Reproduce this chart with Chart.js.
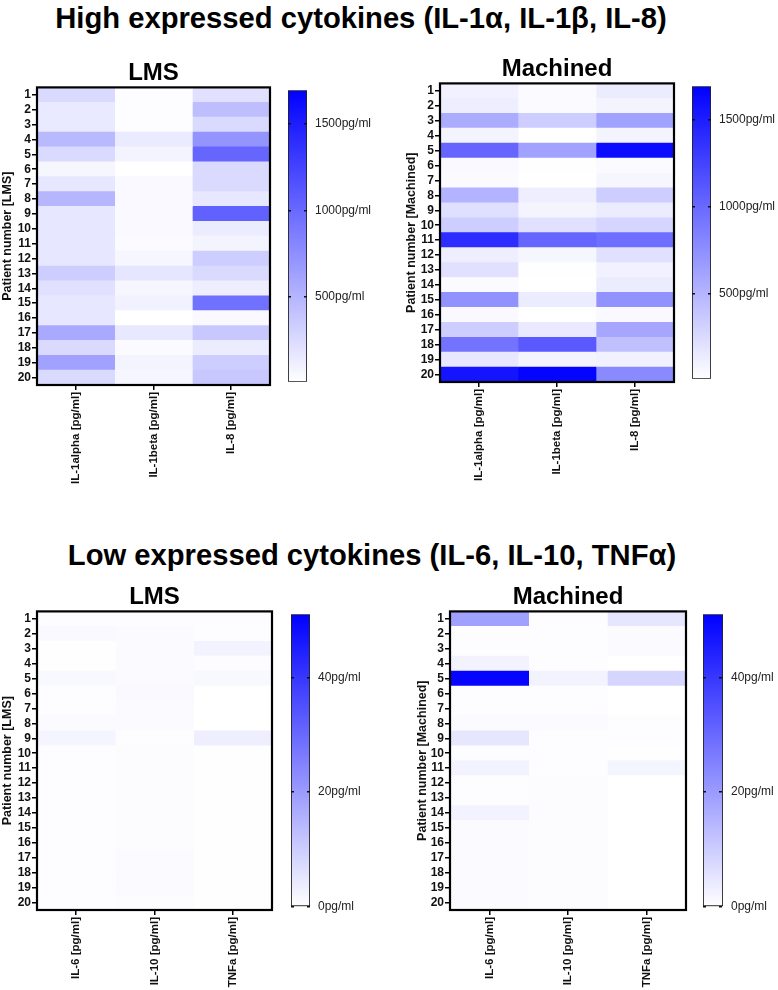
<!DOCTYPE html>
<html>
<head>
<meta charset="utf-8">
<script src="https://cdn.jsdelivr.net/npm/chart.js@4.4.1/dist/chart.umd.min.js"></script>
<style>
  body { margin: 0; background: #fff; }
  #wrap { position: relative; width: 778px; height: 990px; overflow: hidden; }
  #wrap canvas { position: absolute; }
  .main { position: absolute; left: 0; font: bold 29.2px "Liberation Sans", Arial, sans-serif; color: #000; text-align: center; line-height: 34px; white-space: nowrap; }
</style>
</head>
<body>
<div id="wrap">
  <div class="main" style="top:1px;width:722px;">High expressed cytokines (IL-1α, IL-1β, IL-8)</div>
  <div class="main" style="top:538px;width:744px;">Low expressed cytokines (IL-6, IL-10, TNFα)</div>
  <canvas id="hmTL" width="272" height="429" style="left:0;top:56px"></canvas>
  <canvas id="cbTL" width="89" height="322" style="left:288px;top:75px"></canvas>
  <canvas id="hmTR" width="272" height="430" style="left:404px;top:52px"></canvas>
  <canvas id="cbTR" width="89" height="323" style="left:692px;top:71px"></canvas>
  <canvas id="hmBL" width="274" height="430" style="left:0;top:580px"></canvas>
  <canvas id="cbBL" width="89" height="323" style="left:291px;top:599px"></canvas>
  <canvas id="hmBR" width="273" height="430" style="left:415px;top:580px"></canvas>
  <canvas id="cbBR" width="90" height="323" style="left:703px;top:599px"></canvas>
</div>
<script>
const patients = ['1','2','3','4','5','6','7','8','9','10','11','12','13','14','15','16','17','18','19','20'];
const highCytokines = ['IL-1alpha [pg/ml]', 'IL-1beta [pg/ml]', 'IL-8 [pg/ml]'];
const lowCytokines = ['IL-6 [pg/ml]', 'IL-10 [pg/ml]', 'TNFa [pg/ml]'];

// high expressed, pg/ml
const lmsIL1a = [255, 155, 155, 475, 255, 70, 170, 495, 170, 170, 170, 170, 340, 205, 170, 170, 580, 255, 630, 255];
const lmsIL1b = [20, 20, 20, 145, 85, 5, 50, 50, 50, 50, 35, 70, 175, 70, 100, 5, 160, 35, 85, 70];
const lmsIL8 = [205, 440, 255, 715, 1020, 255, 255, 170, 1055, 135, 85, 340, 255, 120, 950, 50, 375, 135, 340, 375];
const machIL1a = [100, 120, 560, 85, 1020, 50, 35, 510, 220, 340, 1395, 120, 205, 35, 730, 50, 340, 935, 170, 1565];
const machIL1b = [35, 35, 340, 5, 630, 15, 5, 120, 85, 205, 1020, 70, 15, 5, 135, 5, 155, 1105, 85, 1665];
const machIL8 = [135, 85, 630, 85, 1615, 35, 70, 340, 135, 290, 970, 205, 100, 135, 730, 50, 595, 425, 100, 780];

// low expressed, pg/ml
const lmsIL6 = [0.5, 1.3, 0.3, 0.3, 1.5, 0.5, 0.5, 1, 2, 0.5, 0.4, 0.4, 0.4, 0.4, 0.5, 0.4, 0.4, 0.4, 0.5, 0.5];
const lmsIL10 = [0.5, 1, 0.8, 0.8, 0.8, 1.3, 1, 1, 0.5, 0.7, 0.7, 0.7, 0.7, 0.7, 0.7, 0.7, 1, 0.8, 0.8, 0.7];
const lmsTNFa = [0.5, 0.5, 2.5, 0.5, 1.5, 0.1, 0.1, 0.1, 3.5, 0.3, 0.3, 0.3, 0.3, 0.3, 0.3, 0.3, 0.3, 0.3, 0.3, 0.3];
const machIL6 = [19, 0.5, 0.5, 2.5, 50, 0.5, 0.5, 1, 5, 0.5, 2.5, 0.5, 0.5, 2.5, 1, 1, 1, 1, 1, 1];
const machIL10 = [0.5, 0.5, 0.5, 0.5, 2.5, 0.5, 0.5, 1, 0.5, 0.5, 0.5, 0.7, 0.7, 0.7, 0.7, 0.7, 0.7, 0.7, 0.7, 0.7];
const machTNFa = [5, 1, 1, 0, 8.5, 0, 0, 0.5, 0.5, 0.2, 2, 0, 0, 0, 0, 0, 0, 0, 0, 0];

const highRange = [10, 1695];
const lowRange = [0, 51];
const highTicks = [500, 1000, 1500];
const lowTicks = [0, 20, 40];

Chart.defaults.font.family = '"Liberation Sans", Arial, sans-serif';
Chart.defaults.color = '#000';

function cellColor(v, range) {
    let t = (v - range[0]) / (range[1] - range[0]);
    t = Math.max(0, Math.min(1, t));
    const c = Math.round(255 * (1 - t));
    return 'rgb(' + c + ',' + c + ',255)';
}

const frame = {
    id: 'frame',
    afterDatasetsDraw(chart) {
        const a = chart.chartArea;
        const ctx = chart.ctx;
        ctx.save();
        ctx.strokeStyle = '#000';
        ctx.lineWidth = 2.2;
        ctx.strokeRect(a.left, a.top, a.right - a.left, a.bottom - a.top);
        ctx.restore();
    }
};

function heatmap(id, title, yTitle, columns, names, range, yWidth) {
    const datasets = columns.map((col, ci) => ({
        data: patients.map(() => [ci, ci + 1]),
        backgroundColor: col.map(v => cellColor(v, range)),
        borderWidth: 0,
        grouped: false,
        barPercentage: 1,
        categoryPercentage: 1
    }));
    new Chart(document.getElementById(id), {
        type: 'bar',
        data: { labels: patients, datasets: datasets },
        options: {
            indexAxis: 'y',
            responsive: false,
            animation: false,
            layout: { padding: { right: 2 } },
            plugins: {
                legend: { display: false },
                tooltip: { enabled: false },
                title: {
                    display: true,
                    text: title,
                    fullSize: false,
                    font: { size: 24, weight: 'bold' },
                    color: '#000',
                    padding: { top: 2.6, bottom: 0 }
                }
            },
            scales: {
                x: {
                    type: 'linear',
                    min: 0,
                    max: 3,
                    afterBuildTicks: axis => { axis.ticks = names.map((n, i) => ({ value: i + 0.5 })); },
                    afterFit: s => { s.height = 100; },
                    ticks: {
                        callback: (v, i) => names[i],
                        minRotation: 90,
                        maxRotation: 90,
                        autoSkip: false,
                        padding: 2,
                        font: { size: 11.5, weight: 'bold' },
                        color: '#111'
                    },
                    grid: { drawOnChartArea: false, tickLength: 5, color: '#000', lineWidth: 1.5 },
                    border: { display: false }
                },
                y: {
                    type: 'category',
                    afterFit: s => { s.width = yWidth; },
                    title: {
                        display: true,
                        text: yTitle,
                        font: { size: 12.5, weight: 'bold' },
                        color: '#111',
                        padding: 0
                    },
                    ticks: { font: { size: 12, weight: 'bold' }, color: '#111', padding: 1, autoSkip: false },
                    grid: { drawOnChartArea: false, offset: false, tickLength: 5, color: '#000', lineWidth: 1.5 },
                    border: { display: false }
                }
            }
        },
        plugins: [frame]
    });
}

function colorbar(id, range, ticks) {
    new Chart(document.getElementById(id), {
        type: 'bar',
        data: {
            labels: [''],
            datasets: [{
                data: [[range[0], range[1]]],
                backgroundColor: c => {
                    const a = c.chart.chartArea;
                    if (!a) return '#88f';
                    const g = c.chart.ctx.createLinearGradient(0, a.bottom, 0, a.top);
                    g.addColorStop(0, '#ffffff');
                    g.addColorStop(1, '#0000ff');
                    return g;
                },
                borderColor: '#222',
                borderWidth: 1.2,
                borderSkipped: false,
                barPercentage: 1,
                categoryPercentage: 1
            }]
        },
        options: {
            responsive: false,
            animation: false,
            layout: { padding: { top: 12, bottom: 12 } },
            plugins: { legend: { display: false }, tooltip: { enabled: false } },
            scales: {
                x: { display: false },
                y: {
                    type: 'linear',
                    position: 'right',
                    min: range[0],
                    max: range[1],
                    afterBuildTicks: axis => { axis.ticks = ticks.map(v => ({ value: v })); },
                    afterFit: s => { s.width = 70; },
                    ticks: { callback: v => v + 'pg/ml', font: { size: 12 }, color: '#222', padding: 8 },
                    grid: { z: 1, drawOnChartArea: true, drawTicks: false, color: '#111', lineWidth: 1.5 },
                    border: { display: false, dash: [3, 13] }
                }
            }
        }
    });
}

heatmap('hmTL', 'LMS', 'Patient number [LMS]', [lmsIL1a, lmsIL1b, lmsIL8], highCytokines, highRange, 37);
heatmap('hmTR', 'Machined', 'Patient number [Machined]', [machIL1a, machIL1b, machIL8], highCytokines, highRange, 36);
heatmap('hmBL', 'LMS', 'Patient number [LMS]', [lmsIL6, lmsIL10, lmsTNFa], lowCytokines, lowRange, 37);
heatmap('hmBR', 'Machined', 'Patient number [Machined]', [machIL6, machIL10, machTNFa], lowCytokines, lowRange, 35);
colorbar('cbTL', highRange, highTicks);
colorbar('cbTR', highRange, highTicks);
colorbar('cbBL', lowRange, lowTicks);
colorbar('cbBR', lowRange, lowTicks);
</script>
</body>
</html>
